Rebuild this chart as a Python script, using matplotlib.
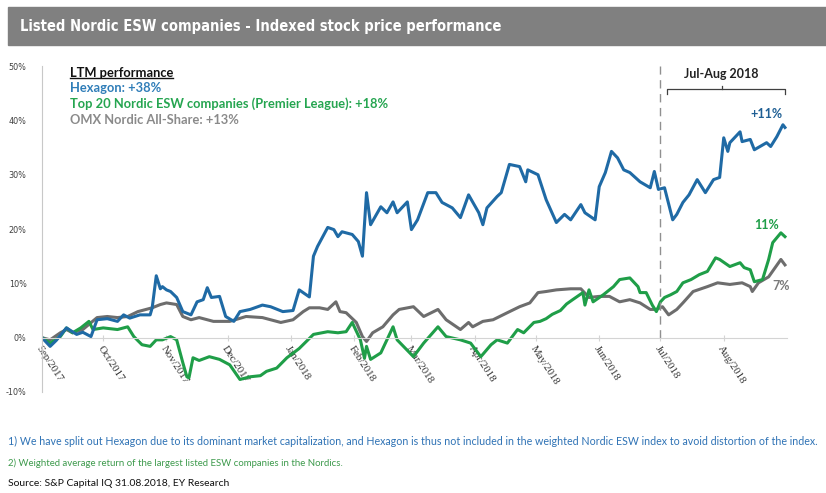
import pandas as pd
import matplotlib.pyplot as plt
from matplotlib.lines import Line2D
from matplotlib.patches import Rectangle

# Data (indexed performance, %)
hex_dates = ['2017-09-01', '2017-09-05', '2017-09-08', '2017-09-13', '2017-09-18', '2017-09-21', '2017-09-25',
             '2017-09-28', '2017-10-03', '2017-10-08', '2017-10-11', '2017-10-14', '2017-10-19', '2017-10-24',
             '2017-10-25', '2017-10-27', '2017-10-29', '2017-10-30', '2017-11-01', '2017-11-03', '2017-11-06',
             '2017-11-09', '2017-11-13', '2017-11-16', '2017-11-19', '2017-11-21', '2017-11-23', '2017-11-27',
             '2017-11-30', '2017-12-04', '2017-12-07', '2017-12-12', '2017-12-18', '2017-12-22', '2017-12-28',
             '2018-01-02', '2018-01-05', '2018-01-10', '2018-01-12', '2018-01-14', '2018-01-19', '2018-01-22',
             '2018-01-24', '2018-01-26', '2018-01-31', '2018-02-03', '2018-02-05', '2018-02-07', '2018-02-09',
             '2018-02-14', '2018-02-17', '2018-02-20', '2018-02-22', '2018-02-27', '2018-03-01', '2018-03-04',
             '2018-03-09', '2018-03-13', '2018-03-16', '2018-03-21', '2018-03-25', '2018-03-29', '2018-04-03',
             '2018-04-05', '2018-04-07', '2018-04-12', '2018-04-14', '2018-04-18', '2018-04-23', '2018-04-26',
             '2018-04-27', '2018-05-02', '2018-05-06', '2018-05-11', '2018-05-15', '2018-05-18', '2018-05-23',
             '2018-05-25', '2018-05-30', '2018-06-01', '2018-06-04', '2018-06-07', '2018-06-10', '2018-06-13',
             '2018-06-16', '2018-06-21', '2018-06-26', '2018-06-28', '2018-06-30', '2018-07-03', '2018-07-07',
             '2018-07-09', '2018-07-12', '2018-07-15', '2018-07-19', '2018-07-23', '2018-07-27', '2018-07-30',
             '2018-08-01', '2018-08-03', '2018-08-04', '2018-08-09', '2018-08-10', '2018-08-14', '2018-08-16',
             '2018-08-22', '2018-08-24', '2018-08-27', '2018-08-30', '2018-08-31']
hexagon = [0, -1.6, -0.5, 1.8, 0.6, 1.0, 0.2,
           3.3, 3.5, 3.0, 4.2, 3.6, 4.2, 4.2,
           5.5, 11.4, 9.0, 9.4, 8.8, 8.5, 7.4,
           4.8, 4.2, 6.6, 7.0, 9.2, 7.4, 7.6,
           3.9, 3.0, 4.8, 5.2, 6.0, 5.7, 4.8,
           5.0, 8.8, 7.5, 15.0, 16.8, 20.3, 19.9,
           18.6, 19.5, 19.0, 17.7, 15.0, 26.7, 20.8,
           24.1, 23.0, 25.0, 23.0, 25.0, 19.9, 21.7,
           26.7, 26.7, 24.9, 23.9, 22.1, 26.3, 23.0,
           20.8, 23.9, 26.0, 26.7, 31.9, 31.5, 28.7,
           30.9, 30.0, 25.4, 21.2, 22.7, 21.7, 24.5,
           23.0, 21.7, 27.8, 30.4, 34.3, 33.1, 30.9,
           30.4, 28.7, 27.6, 30.6, 27.3, 27.6, 21.7,
           22.7, 24.9, 26.3, 29.1, 26.7, 29.1, 29.5,
           36.8, 34.3, 35.9, 37.9, 36.1, 36.5, 34.6,
           35.9, 35.2, 37.0, 39.2, 38.7]

top20_dates = ['2017-09-01', '2017-09-05', '2017-09-10', '2017-09-13', '2017-09-16', '2017-09-20', '2017-09-24',
               '2017-09-26', '2017-10-01', '2017-10-08', '2017-10-13', '2017-10-16', '2017-10-20', '2017-10-24',
               '2017-10-27', '2017-10-30', '2017-11-03', '2017-11-06', '2017-11-09', '2017-11-11', '2017-11-12',
               '2017-11-14', '2017-11-17', '2017-11-22', '2017-11-27', '2017-12-02', '2017-12-07', '2017-12-12',
               '2017-12-17', '2017-12-20', '2017-12-25', '2017-12-30', '2018-01-05', '2018-01-12', '2018-01-19',
               '2018-01-24', '2018-01-28', '2018-01-31', '2018-02-04', '2018-02-06', '2018-02-07', '2018-02-09',
               '2018-02-14', '2018-02-20', '2018-02-22', '2018-03-02', '2018-03-07', '2018-03-14', '2018-03-18',
               '2018-03-25', '2018-03-30', '2018-04-04', '2018-04-09', '2018-04-12', '2018-04-17', '2018-04-22',
               '2018-04-25', '2018-04-30', '2018-05-03', '2018-05-06', '2018-05-09', '2018-05-13', '2018-05-16',
               '2018-05-19', '2018-05-24', '2018-05-25', '2018-05-27', '2018-05-29', '2018-06-03', '2018-06-08',
               '2018-06-11', '2018-06-16', '2018-06-20', '2018-06-21', '2018-06-24', '2018-06-27', '2018-06-29',
               '2018-07-01', '2018-07-03', '2018-07-06', '2018-07-09', '2018-07-12', '2018-07-16', '2018-07-20',
               '2018-07-24', '2018-07-28', '2018-07-30', '2018-08-04', '2018-08-09', '2018-08-11', '2018-08-14',
               '2018-08-16', '2018-08-20', '2018-08-23', '2018-08-25', '2018-08-29', '2018-08-31']
top20 = [0, -1.0, 0.2, 1.8, 0.9, 1.8, 3.0,
         1.5, 1.8, 1.5, 2.0, 0.2, -1.3, -1.6,
         -0.4, -0.4, 0.2, -0.4, -4.6, -7.2, -7.4,
         -3.7, -4.2, -3.5, -4.0, -5.0, -7.7, -7.2,
         -7.0, -6.2, -5.6, -3.7, -2.0, 0.6, 1.1,
         0.9, 1.1, 2.8, -0.4, -3.8, -1.6, -4.0,
         -2.8, 2.0, -0.4, -3.5, -1.0, 2.0, 0.2,
         -0.4, -1.0, -3.5, -1.3, -0.4, -1.0, 1.5,
         0.9, 2.8, 3.0, 3.5, 4.3, 5.0, 6.2,
         7.0, 8.3, 6.0, 8.8, 6.6, 7.9, 9.4,
         10.7, 11.0, 9.4, 8.3, 8.3, 6.0, 4.8,
         6.6, 7.4, 7.9, 8.5, 10.1, 10.7, 11.6,
         12.2, 14.7, 14.4, 13.1, 13.8, 12.9, 12.5,
         10.3, 10.7, 14.4, 17.5, 19.3, 18.6]

omx_dates = ['2017-09-01', '2017-09-05', '2017-09-10', '2017-09-13', '2017-09-16', '2017-09-21', '2017-09-28',
             '2017-10-03', '2017-10-08', '2017-10-13', '2017-10-18', '2017-10-22', '2017-10-25', '2017-10-29',
             '2017-11-01', '2017-11-06', '2017-11-09', '2017-11-13', '2017-11-17', '2017-11-24', '2017-12-02',
             '2017-12-10', '2017-12-18', '2017-12-27', '2018-01-02', '2018-01-07', '2018-01-10', '2018-01-15',
             '2018-01-19', '2018-01-23', '2018-01-25', '2018-01-28', '2018-02-02', '2018-02-05', '2018-02-07',
             '2018-02-10', '2018-02-15', '2018-02-20', '2018-02-23', '2018-03-02', '2018-03-07', '2018-03-14',
             '2018-03-18', '2018-03-25', '2018-03-29', '2018-03-31', '2018-04-05', '2018-04-10', '2018-04-17',
             '2018-04-23', '2018-04-28', '2018-05-02', '2018-05-06', '2018-05-11', '2018-05-18', '2018-05-23',
             '2018-05-27', '2018-06-01', '2018-06-06', '2018-06-11', '2018-06-16', '2018-06-21', '2018-06-26',
             '2018-06-29', '2018-07-02', '2018-07-05', '2018-07-09', '2018-07-12', '2018-07-17', '2018-07-24',
             '2018-07-29', '2018-08-04', '2018-08-10', '2018-08-14', '2018-08-15', '2018-08-18', '2018-08-23',
             '2018-08-29', '2018-08-31']
omx = [0, -0.4, 0.9, 1.5, 0.9, 1.5, 3.7,
       3.9, 3.7, 3.9, 4.8, 5.2, 5.5, 6.1,
       6.4, 6.1, 3.9, 3.3, 3.7, 3.0, 3.0,
       3.9, 3.7, 2.8, 3.3, 4.8, 5.5, 5.5,
       5.2, 6.6, 4.8, 4.6, 2.8, 0.2, -0.7,
       0.9, 2.0, 4.2, 5.2, 5.7, 3.9, 5.2,
       3.3, 1.5, 2.8, 2.0, 3.0, 3.3, 4.6,
       5.7, 6.4, 8.3, 8.5, 8.8, 9.0, 9.0,
       7.4, 7.6, 7.6, 6.6, 7.0, 6.4, 5.2,
       5.2, 5.7, 4.2, 5.2, 6.4, 8.5, 9.4,
       10.1, 9.8, 10.1, 9.4, 8.5, 10.1, 11.2,
       14.4, 13.4]

month_starts = ['2017-09-01', '2017-10-01', '2017-11-01', '2017-12-01', '2018-01-01', '2018-02-01',
                '2018-03-01', '2018-04-01', '2018-05-01', '2018-06-01', '2018-07-01', '2018-08-01']
month_labels = ['Sep/2017', 'Oct/2017', 'Nov/2017', 'Dec/2017', 'Jan/2018', 'Feb/2018',
                'Mar/2018', 'Apr/2018', 'May/2018', 'Jun/2018', 'Jul/2018', 'Aug/2018']
y_ticks = [-10, 0, 10, 20, 30, 40, 50]
y_labels = ['-10%', '0%', '10%', '20%', '30%', '40%', '50%']

blue = '#1f6aa5'
green = '#1f9e48'
grey = '#6d6d6d'

fig = plt.figure(figsize=(8.26, 4.93), dpi=100)
ax = fig.add_axes([0.0508, 0.2049, 0.902, 0.661])

ax.plot(pd.to_datetime(omx_dates), omx, color=grey, lw=2.2)
ax.plot(pd.to_datetime(top20_dates), top20, color=green, lw=2.2)
ax.plot(pd.to_datetime(hex_dates), hexagon, color=blue, lw=2.2)

ax.set_xlim(pd.Timestamp('2017-09-01'), pd.Timestamp('2018-09-01'))
ax.set_ylim(-10, 50)

# axes look
for s in ['top', 'right']:
    ax.spines[s].set_visible(False)
ax.spines['left'].set_color('#c8c8c8')
ax.spines['bottom'].set_position(('data', 0))
ax.spines['bottom'].set_color('#d4d4d4')
ax.set_yticks(y_ticks)
ax.set_yticklabels(y_labels, fontsize=6.5, color='#404040', family='DejaVu Sans', stretch='condensed')
ax.tick_params(axis='y', length=0, pad=11)
ax.set_xticks(pd.to_datetime(month_starts))
ax.set_xticklabels(month_labels, rotation=-57, ha='left', va='top', rotation_mode='anchor',
                   fontsize=7.8, color='#333333', family='Liberation Serif')
ax.tick_params(axis='x', length=5, direction='inout', color='#d4d4d4', pad=2)
ax.patch.set_alpha(0)

# Jul-Aug marker
jul = pd.Timestamp('2018-07-01')
ax.plot([jul, jul], [0, 50], color='#909090', lw=1, ls=(0, (6, 4)), clip_on=False)
b0, b1 = pd.Timestamp('2018-07-04'), pd.Timestamp('2018-08-31')
bm = pd.Timestamp('2018-07-31')
ax.plot([b0, b0, b1, b1], [44.8, 45.7, 45.7, 44.8], color='#404040', lw=0.9, clip_on=False)
ax.plot([bm, bm], [45.7, 46.3], color='#404040', lw=0.9, clip_on=False)
ax.text(bm, 48.6, 'Jul-Aug 2018', ha='center', va='center', fontsize=9, fontweight='bold',
        family='Lato', color='#222222')
ax.text(pd.Timestamp('2018-08-22'), 41.2, '+11%', ha='center', va='center', fontsize=9,
        fontweight='bold', family='Lato', color='#1f5f94')
ax.text(pd.Timestamp('2018-08-22'), 20.8, '11%', ha='center', va='center', fontsize=9,
        fontweight='bold', family='Lato', color='#1f9e48')
ax.text(pd.Timestamp('2018-08-29'), 9.6, '7%', ha='center', va='center', fontsize=9,
        fontweight='bold', family='Lato', color='#7a7a7a')

# title bar
fig.patches.append(Rectangle((8 / 826, 1 - 45 / 493), 1 - 8 / 826, 38 / 493, transform=fig.transFigure,
                             color='#808080', zorder=0))
title = fig.text(20 / 826, 1 - 26 / 493, 'Listed Nordic ESW companies - Indexed stock price performance',
                 ha='left', va='center', color='white', fontsize=12, fontweight='bold',
                 family='DejaVu Sans', stretch='condensed')

# LTM legend block
lx = 70 / 826
ltm = fig.text(lx, 1 - 73 / 493, 'LTM performance', fontsize=9.3, fontweight='bold', family='Lato',
               color='#111111', va='center')
fig.text(lx, 1 - 88 / 493, 'Hexagon: +38%', fontsize=9.3, fontweight='bold', family='Lato',
         color='#2f7db8', va='center')
fig.text(lx, 1 - 104 / 493, 'Top 20 Nordic ESW companies (Premier League): +18%', fontsize=9.3,
         fontweight='bold', family='Lato', color='#25a550', va='center')
fig.text(lx, 1 - 120 / 493, 'OMX Nordic All-Share: +13%', fontsize=9.3, fontweight='bold', family='Lato',
         color='#8a8a8a', va='center')

# footnotes
fn1 = fig.text(8 / 826, 1 - 441 / 493, '1) We have split out Hexagon due to its dominant market capitalization, '
               'and Hexagon is thus not included in the weighted Nordic ESW index to avoid distortion of the index.',
               fontsize=8, family='Lato', color='#2e72b5', va='center')
fn2 = fig.text(8 / 826, 1 - 463 / 493, '2) Weighted average return of the largest listed ESW companies in the Nordics.',
               fontsize=8, family='Lato', color='#3d9a4c', va='center')
fn3 = fig.text(8 / 826, 1 - 483 / 493, 'Source: S&P Capital IQ 31.08.2018, EY Research',
               fontsize=8, family='Lato', color='#111111', va='center')

# fit text widths to the reference
r = fig.canvas.get_renderer()
for t, w in [(title, 480), (fn1, 807), (fn2, 338), (fn3, 222)]:
    cur = t.get_window_extent(r).width
    t.set_fontsize(t.get_fontsize() * w / cur)

# underline for LTM performance
bb = ltm.get_window_extent(r)
fig.lines.append(Line2D([bb.x0 / 826, bb.x1 / 826], [(bb.y0 + 1) / 493, (bb.y0 + 1) / 493],
                        transform=fig.transFigure, color='#111111', lw=1))

fig.savefig('out.png', dpi=100)
